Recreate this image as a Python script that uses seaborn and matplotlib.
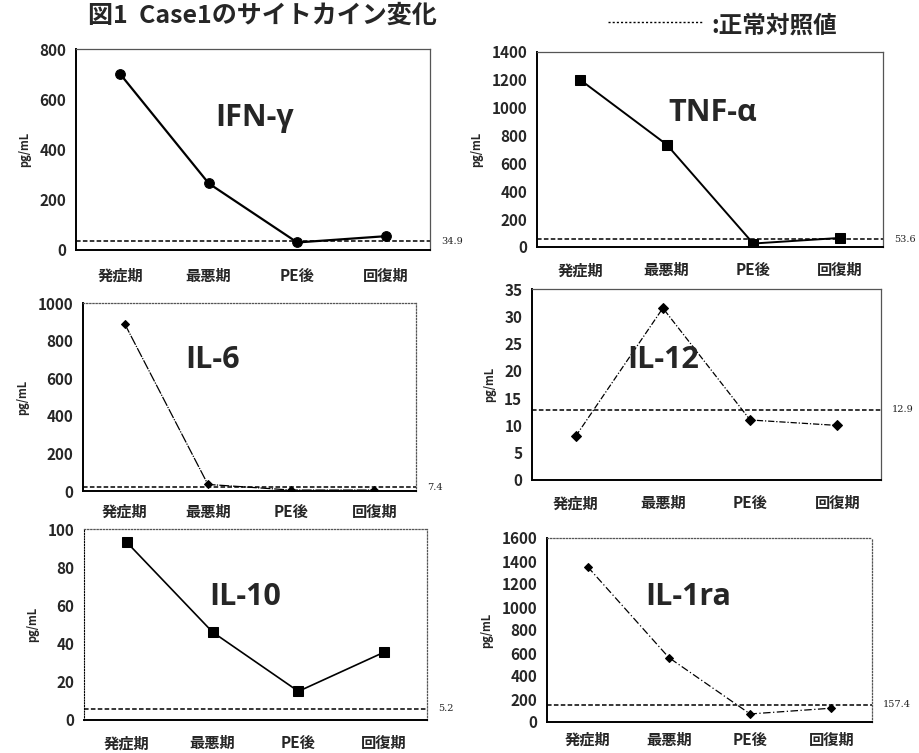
import numpy as np
import pandas as pd
import matplotlib
matplotlib.use("Agg")
import matplotlib.pyplot as plt
import seaborn as sns

sns.set_theme(style="white")
plt.rcParams['font.family'] = ['Noto Sans CJK JP', 'DejaVu Sans']

# ---------------- data ----------------
stages = ["発症期", "最悪期", "PE後", "回復期"]

ifn_values = [700, 265, 30, 55]
tnf_values = [1200, 735, 25, 65]
il6_values = [890, 35, 5, 5]
il12_values = [8, 31.5, 11, 10]
il10_values = [93, 46, 15, 35.5]
il1ra_values = [1350, 560, 70, 120]

normal_lines = [35, 55, 20, 12.9, 6, 150]
normal_labels = ["34.9", "53.6", "7.4", "12.9", "5.2", "157.4"]

panel_names = ["IFN-γ", "TNF-α", "IL-6", "IL-12", "IL-10", "IL-1ra"]
ylims = [800, 1400, 1000, 35, 100, 1600]
ysteps = [200, 200, 200, 5, 20, 200]

title_text = "図1  Case1のサイトカイン変化"
legend_text = ":正常対照値"
ylabel_text = "pg/mL"

series = [ifn_values, tnf_values, il6_values, il12_values, il10_values, il1ra_values]

# ---------------- layout ----------------
W, H = 920, 753
fig = plt.figure(figsize=(W / 100, H / 100), dpi=100)

# axes boxes in pixels: left, right, top, bottom
boxes = [
    (76, 430, 49, 250),
    (537, 883, 52, 247),
    (83, 416, 303, 491),
    (532, 881, 289, 480),
    (84, 427, 529, 720),
    (547, 872, 538, 722),
]
xpads = [13, 11, 9, 11, 11, 7]
name_pos = [(255, 118), (713, 113), (213, 360), (663, 360), (245, 597), (688, 597)]
markers = ["o", "s", "D", "D", "s", "D"]
msizes = [7, 7, 4, 5, 7, 4]
lwidths = [1.6, 1.4, 0.9, 0.9, 1.2, 0.9]
lstyles = ["-", "-", (0, (8, 1, 1, 1)), (0, (5, 1.5, 1, 1.5)), "-", (0, (6, 2, 1, 2))]


def to_fig(l, r, t, b):
    return [l / W, 1 - b / H, (r - l) / W, (b - t) / H]


for i, (vals, box) in enumerate(zip(series, boxes)):
    ax = fig.add_axes(to_fig(*box))
    df = pd.DataFrame({"x": np.arange(len(stages)), "y": vals})
    sns.lineplot(data=df, x="x", y="y", ax=ax, color="black", marker=markers[i],
                 markersize=msizes[i], linewidth=lwidths[i], markeredgecolor="black",
                 markerfacecolor="black")
    ax.lines[-1].set_linestyle(lstyles[i])
    ax.axhline(normal_lines[i], color="black", ls=(0, (3, 1.5)), lw=1.1)
    ax.set_xlim(-0.5, len(stages) - 0.5)
    ax.set_ylim(0, ylims[i])
    ax.set_yticks(np.arange(0, ylims[i] + 0.01, ysteps[i]))
    ax.set_xticks(np.arange(len(stages)))
    ax.set_xticklabels(stages, fontsize=11, fontweight="bold")
    ax.tick_params(axis="x", length=0, pad=xpads[i])
    ax.set_xticks(np.arange(len(stages) - 1) + 0.5, minor=True)
    ax.tick_params(axis="x", which="minor", direction="in", length=3, width=0.8)
    ax.tick_params(axis="y", length=3, width=0.8, direction="out", labelsize=11, pad=4)
    for lab in ax.get_yticklabels():
        lab.set_fontweight("bold")
    ax.set_xlabel("")
    ax.set_ylabel(ylabel_text, fontsize=8, fontweight="bold", labelpad=6)
    for s in ["left", "bottom"]:
        ax.spines[s].set_color("black")
        ax.spines[s].set_linewidth(1.4)
    for s in ["top", "right"]:
        ax.spines[s].set_color("#555555")
        ax.spines[s].set_linewidth(0.9)
        if i in (2, 4, 5):
            ax.spines[s].set_linestyle((0, (1, 1.5)))
    if i == 4:
        ax.spines["left"].set_linestyle((0, (1, 1.5)))
        ax.spines["left"].set_linewidth(0.8)
    ax.grid(False)
    # normal value label at right of axes
    ax.annotate(normal_labels[i], xy=(1.0, normal_lines[i]),
                xycoords=("axes fraction", "data"), xytext=(8, 0),
                textcoords="offset points", fontsize=7, va="center", ha="left",
                family="DejaVu Serif", color="#222222", annotation_clip=False)
    # panel name
    fig.text(name_pos[i][0] / W, 1 - name_pos[i][1] / H, panel_names[i],
             fontsize=22, fontweight="bold", family=["Open Sans", "DejaVu Sans"],
             ha="center", va="center")

fig.text(88 / W, 1 - 16 / H, title_text, fontsize=18, fontweight="bold",
         ha="left", va="center")
fig.add_artist(plt.Line2D([608 / W, 702 / W], [1 - 22 / H, 1 - 22 / H],
                          color="black", ls=(0, (1.5, 1.5)), lw=1, transform=fig.transFigure))
fig.text(711 / W, 1 - 26 / H, legend_text, fontsize=17, fontweight="bold",
         ha="left", va="center")

fig.savefig("out.png", dpi=100, facecolor="white")
